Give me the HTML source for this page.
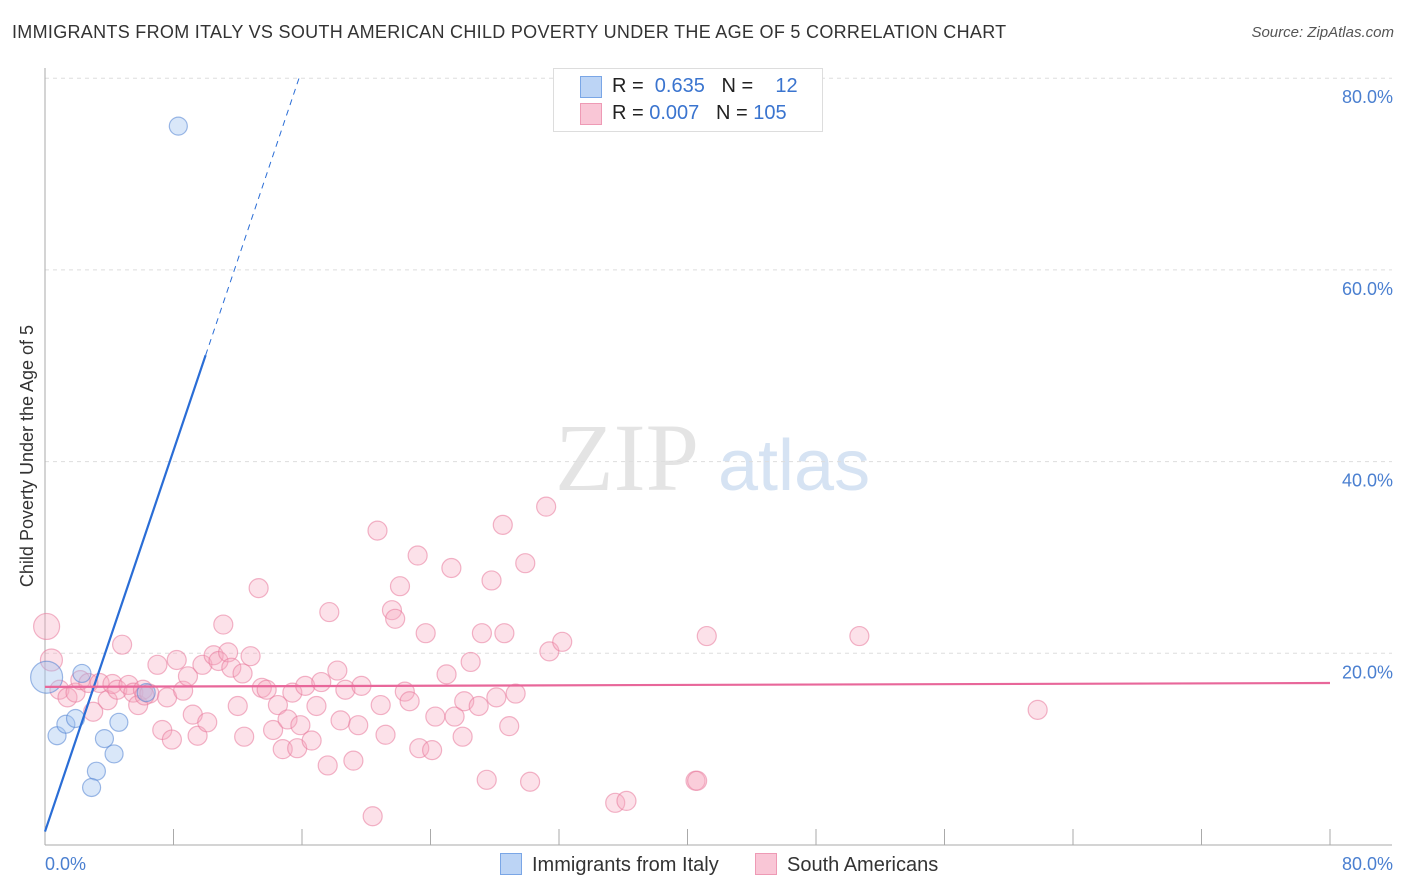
<!DOCTYPE html>
<html><head><meta charset="utf-8"><style>
body{margin:0;background:#fff;font-family:"Liberation Sans",sans-serif;}
#wrap{position:relative;width:1406px;height:892px;overflow:hidden;}
.t{position:absolute;white-space:nowrap;}
</style></head><body>
<div id="wrap">
<div class="t" style="left:12px;top:22px;font-size:18px;letter-spacing:0.3px;color:#333;">IMMIGRANTS FROM ITALY VS SOUTH AMERICAN CHILD POVERTY UNDER THE AGE OF 5 CORRELATION CHART</div>
<div class="t" style="right:12px;top:24px;font-size:15px;color:#555;font-style:italic;">Source: ZipAtlas.com</div>
<svg id="svg" width="1406" height="892" style="position:absolute;left:0;top:0"></svg>
</div>
<script>
const blueX=[8.3,2.3,0.1,0.75,1.3,1.9,3.7,4.6,4.3,3.2,2.9,6.3];
const blueY=[75.0,17.9,17.5,11.4,12.6,13.2,11.1,12.8,9.5,7.7,6.0,15.9];
const pinkX=[0.1,0.4,0.9,1.4,1.9,2.2,2.7,3.0,3.4,3.9,4.2,4.5,4.8,5.2,5.5,5.8,6.1,6.5,7.0,7.3,7.6,7.9,8.2,8.6,8.9,9.2,9.5,9.8,10.1,10.5,10.8,11.1,11.4,11.6,12.0,12.3,12.4,12.8,13.3,13.5,13.8,14.2,14.5,14.8,15.1,15.4,15.7,15.9,16.2,16.6,16.9,17.2,17.6,17.7,18.2,18.4,18.7,19.2,19.5,19.7,20.4,20.7,20.9,21.2,21.6,21.8,22.1,22.4,22.7,23.2,23.3,23.7,24.1,24.3,25.0,25.3,25.5,26.0,26.1,26.5,27.0,27.2,27.5,27.8,28.1,28.5,28.6,28.9,29.3,29.9,30.2,31.2,31.4,32.2,35.5,36.2,40.5,40.6,41.2,50.7,61.8,6.2];
const pinkY=[22.8,19.3,16.2,15.4,15.9,17.2,16.9,13.9,16.9,15.1,16.8,16.2,20.9,16.7,15.9,14.6,16.2,15.8,18.8,12.0,15.4,11.0,19.3,16.1,17.6,13.6,11.4,18.8,12.8,19.8,19.2,23.0,20.1,18.5,14.5,17.9,11.3,19.7,26.8,16.4,16.2,12.0,14.6,10.0,13.1,15.9,10.1,12.5,16.6,10.9,14.5,17.0,8.3,24.3,18.2,13.0,16.2,8.8,12.5,16.6,3.0,32.8,14.6,11.5,24.5,23.6,27.0,16.0,15.0,30.2,10.1,22.1,9.9,13.4,17.8,28.9,13.4,11.3,15.0,19.1,14.5,22.1,6.8,27.6,15.4,33.4,22.1,12.4,15.8,29.4,6.6,35.3,20.2,21.2,4.4,4.6,6.7,6.7,21.8,21.8,14.1,15.6];
const yTicks=[20,40,60,80];
const yTickLabels=["20.0%","40.0%","60.0%","80.0%"];
const blueFit=[1.4,4.97];
const pinkFit=[16.5,16.9];
const X=v=>45+v/80*1285, Y=v=>845-v/20*191.7;
const svg=document.getElementById('svg');const NS='http://www.w3.org/2000/svg';
function mk(t,a,p){const e=document.createElementNS(NS,t);for(const k in a)e.setAttribute(k,a[k]);(p||svg).appendChild(e);return e;}
let w=mk('text',{x:555,y:490,'font-size':96,fill:'#e4e4e4','font-family':'Liberation Serif, serif'});w.textContent='ZIP';


let w2=mk('text',{x:718,y:490,'font-size':72,fill:'#d6e3f3','font-family':'Liberation Sans, sans-serif'});w2.textContent='atlas';


yTicks.forEach((v,i)=>{let g=mk('line',{x1:45,x2:1392,y1:Y(v),y2:Y(v),stroke:'#ddd','stroke-dasharray':'4,4'});


let t=mk('text',{x:1393,y:Y(v)+25,'text-anchor':'end','font-size':18,fill:'#4a7fd0'});t.textContent=yTickLabels[i];

});
let ax=mk('line',{x1:45,x2:45,y1:68,y2:845,stroke:'#aaa'});
let bx=mk('line',{x1:45,x2:1392,y1:845,y2:845,stroke:'#aaa'});
for(let i=0;i<=10;i++){let tk=mk('line',{x1:X(i*8),x2:X(i*8),y1:829,y2:845,stroke:'#aaa'});

}
let x0=mk('text',{x:45,y:870,'font-size':18,fill:'#4a7fd0'});x0.textContent='0.0%';
let x1=mk('text',{x:1393,y:870,'text-anchor':'end','font-size':18,fill:'#4a7fd0'});x1.textContent='80.0%';
let yt=mk('text',{x:0,y:0,'font-size':18,fill:'#333','text-anchor':'middle',transform:'translate(33,456) rotate(-90)'});yt.textContent='Child Poverty Under the Age of 5';

pinkX.forEach((x,i)=>{const r=i==0?13:(i==1?11:9.5);let c=mk('circle',{cx:X(x),cy:Y(pinkY[i]),r:r,fill:'rgba(247,168,192,0.35)',stroke:'rgba(232,120,155,0.55)','stroke-width':1.2});

});
blueX.forEach((x,i)=>{const r=i==2?16:9;let c=mk('circle',{cx:X(x),cy:Y(blueY[i]),r:r,fill:'rgba(160,195,240,0.4)',stroke:'rgba(80,130,210,0.55)','stroke-width':1.2});

});
const bY=x=>blueFit[0]+blueFit[1]*x;
let l1=mk('line',{x1:X(0),y1:Y(bY(0)),x2:X(10),y2:Y(bY(10)),stroke:'#2a6dd6','stroke-width':2.2});

const xe=(80-blueFit[0])/blueFit[1];
let l2=mk('line',{x1:X(10),y1:Y(bY(10)),x2:X(xe),y2:Y(80),stroke:'#2a6dd6','stroke-width':1,'stroke-dasharray':'6,5'});

let l3=mk('line',{x1:X(0),y1:Y(pinkFit[0]),x2:X(80),y2:Y(pinkFit[1]),stroke:'#e8679a','stroke-width':2.2});

</script>
<div class="t" style="left:553px;top:68px;width:268px;height:62px;border:1px solid #ddd;background:#fff;font-size:20px;color:#222;">
<div style="position:absolute;left:26px;top:7px;width:20px;height:20px;background:#bcd4f5;border:1px solid #7aa6e6;"></div>
<div style="position:absolute;left:26px;top:34px;width:20px;height:20px;background:#f9c6d6;border:1px solid #ee9ab5;"></div>
<div style="position:absolute;left:58px;top:6px;">R = <span style="color:#3a74cf">&nbsp;0.635</span>&nbsp;&nbsp;&nbsp;N = <span style="color:#3a74cf">&nbsp;&nbsp;&nbsp;12</span></div>
<div style="position:absolute;left:58px;top:33px;">R = <span style="color:#3a74cf">0.007</span>&nbsp;&nbsp;&nbsp;N = <span style="color:#3a74cf">105</span></div>
</div>
<div class="t" style="left:500px;top:853px;font-size:20px;color:#333;"><span style="display:inline-block;width:20px;height:20px;background:#bcd4f5;border:1px solid #7aa6e6;vertical-align:-4px;margin-right:10px"></span>Immigrants from Italy</div>
<div class="t" style="left:755px;top:853px;font-size:20px;color:#333;"><span style="display:inline-block;width:20px;height:20px;background:#f9c6d6;border:1px solid #ee9ab5;vertical-align:-4px;margin-right:10px"></span>South Americans</div>
</body></html>
